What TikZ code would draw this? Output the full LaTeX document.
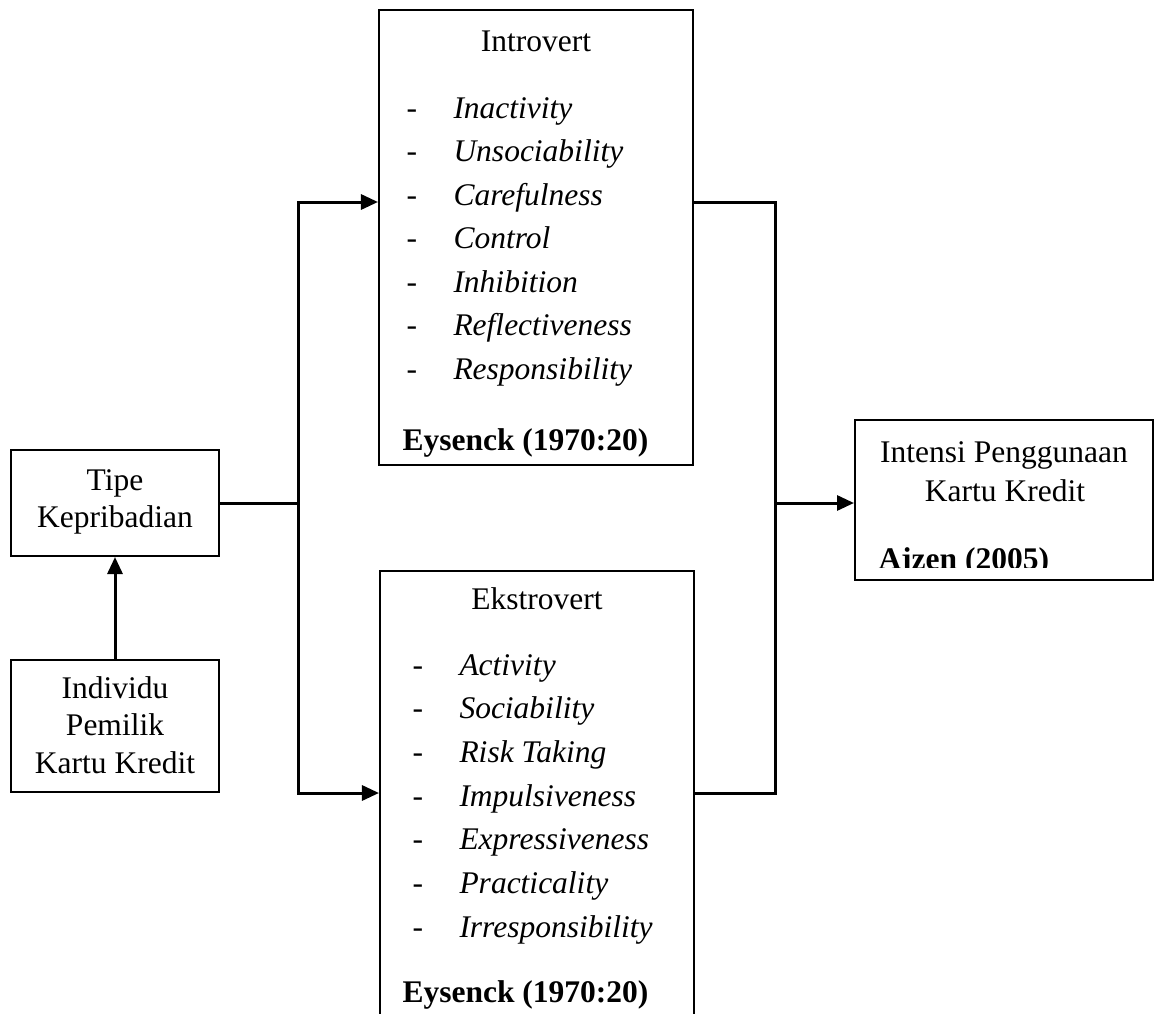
\documentclass[tikz,border=0pt]{standalone}
\usepackage{fontspec}
\setmainfont{Liberation Serif}
\usetikzlibrary{positioning, arrows.meta}

\begin{document}
\begin{tikzpicture}[x=0.4pt, y=-0.4pt, >={Triangle[length=6.8pt, width=6pt]},
    box/.style={draw, line width=0.8pt, inner sep=0pt},
    conn/.style={line width=1.2pt},
    txt/.style={inner sep=0pt, anchor=base, font=\fontsize{12.6}{15}\selectfont},
    txtl/.style={txt, anchor=base west},
    item/.style={txtl, font=\fontsize{12.6}{15}\selectfont\itshape},
    src/.style={txtl, font=\fontsize{12.6}{15}\selectfont\bfseries}]
    % Rahmen
    \clip (0,0) rectangle (1155,1014);

    % Kotak
    \node[box, minimum width=83.2pt, minimum height=42.4pt] (tipe) at (115,503) {};
    \node[box, minimum width=83.2pt, minimum height=52.8pt] (individu) at (115,726) {};
    \node[box, minimum width=125.6pt, minimum height=182pt] (introvert) at (536,237.5) {};
    \node[box, minimum width=125.6pt, minimum height=184pt] (ekstrovert) at (537,801) {};
    \node[box, minimum width=119.2pt, minimum height=64pt] (intensi) at (1004,500) {};

    % Teks kiri
    \node[txt] (tipe-1) at (115,490) {Tipe};
    \node[txt] (tipe-2) at (115,527) {Kepribadian};
    \node[txt] (individu-1) at (115,698) {Individu};
    \node[txt] (individu-2) at (115,735) {Pemilik};
    \node[txt] (individu-3) at (115,773) {Kartu Kredit};

    % Introvert
    \node[txt] (intro-title) at (536,51) {Introvert};
    \foreach \y/\name in {118/Inactivity, 161.5/Unsociability, 205/Carefulness,
        248.5/Control, 292/Inhibition, 335.5/Reflectiveness, 379/Responsibility} {
        \node[txtl] (intro-dash-\name) at (406,\y) {-};
        \node[item] (intro-\name) at (453,\y) {\name};
    }
    \node[src] (intro-src) at (402,450) {Eysenck (1970:20)};

    % Ekstrovert
    \node[txt] (ekstro-title) at (537,609) {Ekstrovert};
    \foreach \y/\name in {675/Activity, 718/Sociability, 762/Risk Taking,
        806/Impulsiveness, 849/Expressiveness, 893/Practicality, 937/Irresponsibility} {
        \node[txtl] (ekstro-dash-\y) at (412,\y) {-};
        \node[item] (ekstro-\y) at (459,\y) {\name};
    }
    \node[src] (ekstro-src) at (402,1002) {Eysenck (1970:20)};

    % Intensi
    \node[txt] (intensi-1) at (1004,462) {Intensi Penggunaan};
    \node[txt] (intensi-2) at (1005,501) {Kartu Kredit};
    \begin{scope}
        \clip (855,420) rectangle (1153,567);
        \node[src] (intensi-src) at (878,569) {Ajzen (2005)};
    \end{scope}

    % Titik cabang
    \coordinate (jL) at (298,503);
    \coordinate (jLtop) at (298,202);
    \coordinate (jLbot) at (298,793);
    \coordinate (jR) at (775,503);
    \coordinate (jRtop) at (775,202);
    \coordinate (jRbot) at (775,793);

    % Garis penghubung
    \draw[conn, ->] (individu.north) -- (tipe.south);
    \draw[conn] (tipe.east |- jL) -- (jL);
    \draw[conn, ->] (jL) -- (jLtop) -- (jLtop -| introvert.west);
    \draw[conn, ->] (jL) -- (jLbot) -- (jLbot -| ekstrovert.west);
    \draw[conn] (introvert.east |- jRtop) -- (jRtop) -- (jRbot) -- (ekstrovert.east |- jRbot);
    \draw[conn, ->] (jR) -- (jR -| intensi.west);
\end{tikzpicture}
\end{document}
